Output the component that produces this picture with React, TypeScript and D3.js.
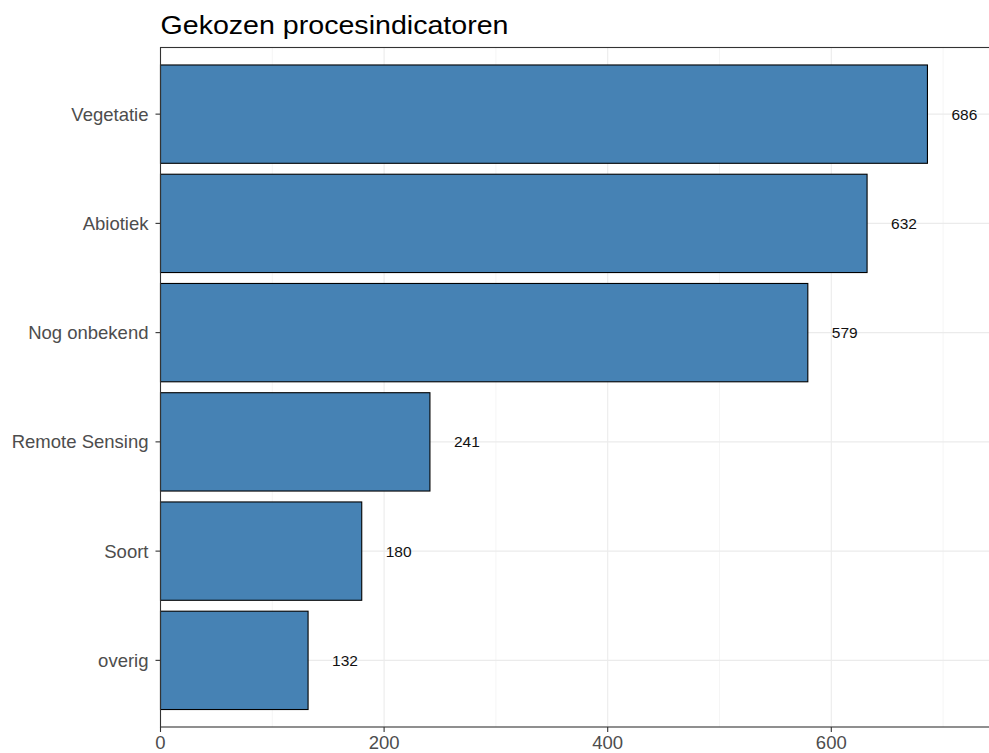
import React from "react";
import * as d3 from "d3";

const categories = ["Vegetatie", "Abiotiek", "Nog onbekend", "Remote Sensing", "Soort", "overig"];
const values = [686, 632, 579, 241, 180, 132];
const majorTicks = [0, 200, 400, 600];
const minorTicks = [100, 300, 500, 700];
const title = "Gekozen procesindicatoren";

const W = 989;
const H = 753;
const left = 160.5;
const top = 47.5;
const bottom = 727;
const labelOffset = 33;

export default function App() {
  const x = d3.scaleLinear().domain([0, 100]).range([left, left + 111.8]);
  const y = d3
    .scaleBand<string>()
    .domain(categories)
    .range([top, bottom])
    .paddingInner(0.1)
    .paddingOuter(0.16);
  const panelRight = W + 20;
  const font = "'Liberation Sans', Arial, sans-serif";
  return (
    <svg width={W} height={H} style={{ position: "absolute", left: 0, top: 0, fontFamily: font }}>
      <rect x={0} y={0} width={W} height={H} fill="#ffffff" />
      <text x={left} y={33.5} fontSize={25.5} fill="#000000" textLength={348} lengthAdjust="spacingAndGlyphs">
        {title}
      </text>
      {minorTicks.map((t) => (
        <line key={"mi" + t} x1={x(t)} x2={x(t)} y1={top} y2={bottom} stroke="#f2f2f2" strokeWidth={0.8} />
      ))}
      {majorTicks.map((t) => (
        <line key={"ma" + t} x1={x(t)} x2={x(t)} y1={top} y2={bottom} stroke="#ebebeb" strokeWidth={1.1} />
      ))}
      {categories.map((c) => (
        <line
          key={"hg" + c}
          x1={left}
          x2={panelRight}
          y1={(y(c) as number) + y.bandwidth() / 2}
          y2={(y(c) as number) + y.bandwidth() / 2}
          stroke="#ebebeb"
          strokeWidth={1.1}
        />
      ))}
      {categories.map((c, i) => (
        <rect
          key={"b" + c}
          x={x(0)}
          y={y(c)}
          width={x(values[i]) - x(0)}
          height={y.bandwidth()}
          fill="#4682B4"
          stroke="#000000"
          strokeWidth={1.1}
        />
      ))}
      {categories.map((c, i) => (
        <text
          key={"v" + c}
          x={x(values[i] + labelOffset)}
          y={(y(c) as number) + y.bandwidth() / 2}
          dy="0.35em"
          textAnchor="middle"
          fontSize={15.5}
          fill="#111111"
        >
          {values[i]}
        </text>
      ))}
      <rect x={left} y={top} width={panelRight - left} height={bottom - top} fill="none" stroke="#333333" strokeWidth={1.1} />
      {categories.map((c) => (
        <g key={"yt" + c} transform={`translate(0,${(y(c) as number) + y.bandwidth() / 2})`}>
          <line x1={left - 5} x2={left} stroke="#333333" strokeWidth={1.1} />
          <text x={left - 12} dy="0.35em" textAnchor="end" fontSize={18.5} fill="#4d4d4d">
            {c}
          </text>
        </g>
      ))}
      {majorTicks.map((t) => (
        <g key={"xt" + t} transform={`translate(${x(t)},${bottom})`}>
          <line y1={0} y2={5} stroke="#333333" strokeWidth={1.1} />
          <text y={22} textAnchor="middle" fontSize={18.5} fill="#4d4d4d">
            {t}
          </text>
        </g>
      ))}
    </svg>
  );
}
